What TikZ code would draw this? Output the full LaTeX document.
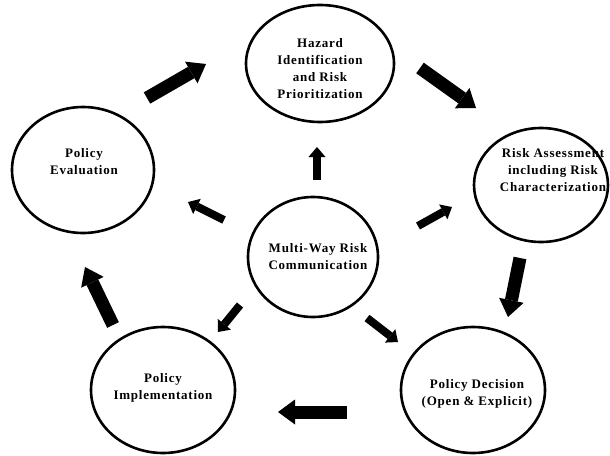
\documentclass[tikz,border=0pt]{standalone}
\usepackage{fontspec}
\setmainfont{Liberation Serif}
\usetikzlibrary{shapes.geometric,arrows.meta}
\begin{document}
\begin{tikzpicture}[x=1pt,y=-1pt,
  stage/.style={draw, line width=2.6pt, ellipse, inner sep=0pt},
  caption/.style={align=center, inner sep=0pt,
    font=\fontsize{13}{17}\selectfont\bfseries\addfontfeature{LetterSpace=6}},
  bigarrow/.style={line width=13pt, -{Triangle[width=25pt,length=17pt,line width=0pt]}},
  smallarrow/.style={line width=8pt, -{Triangle[width=17pt,length=10pt,line width=0pt]}}]
\useasboundingbox (0,0) rectangle (610,455);

% the six stages
\node[stage, minimum width=148pt, minimum height=117pt] (haz)  at (320,63.5) {};
\node[stage, minimum width=134pt, minimum height=114pt] (risk) at (541,185) {};
\node[stage, minimum width=130pt, minimum height=120pt] (comm) at (313,257) {};
\node[stage, minimum width=142pt, minimum height=126pt] (eval) at (83,170) {};
\node[stage, minimum width=144pt, minimum height=126pt] (dec)  at (473,390) {};
\node[stage, minimum width=144pt, minimum height=126pt] (impl) at (163,390) {};

% stage captions
\node[caption] (hazT)  at (320,69)  {Hazard\\Identification\\and Risk\\Prioritization};
\node[caption] (riskT) at (553,170) {Risk Assessment\\including Risk\\Characterization};
\node[caption] (commT) at (318,257) {Multi-Way Risk\\Communication};
\node[caption] (evalT) at (84,162)  {Policy\\Evaluation};
\node[caption] (decT)  at (477,394) {Policy Decision\\(Open \& Explicit)};
\node[caption] (implT) at (163,388) {Policy\\Implementation};

% ends of the cycle arrows
\coordinate (c1a) at (147,98);  \coordinate (c1b) at (206,64);
\coordinate (c2a) at (420,68);  \coordinate (c2b) at (476,108);
\coordinate (c3a) at (520,258); \coordinate (c3b) at (508,317);
\coordinate (c4a) at (347,412); \coordinate (c4b) at (278,412);
\coordinate (c5a) at (113,325); \coordinate (c5b) at (85,267);

% ends of the communication arrows
\coordinate (s1a) at (317,180); \coordinate (s1b) at (317,147);
\coordinate (s2a) at (224,220); \coordinate (s2b) at (188,202);
\coordinate (s3a) at (418,226); \coordinate (s3b) at (452,207);
\coordinate (s4a) at (240,305); \coordinate (s4b) at (218,332);
\coordinate (s5a) at (367,318); \coordinate (s5b) at (398,342);

\draw[bigarrow] (c1a) -- (c1b);
\draw[bigarrow] (c2a) -- (c2b);
\draw[bigarrow] (c3a) -- (c3b);
\draw[bigarrow] (c4a) -- (c4b);
\draw[bigarrow] (c5a) -- (c5b);

\draw[smallarrow] (s1a) -- (s1b);
\draw[smallarrow] (s2a) -- (s2b);
\draw[smallarrow] (s3a) -- (s3b);
\draw[smallarrow] (s4a) -- (s4b);
\draw[smallarrow] (s5a) -- (s5b);
\end{tikzpicture}
\end{document}
